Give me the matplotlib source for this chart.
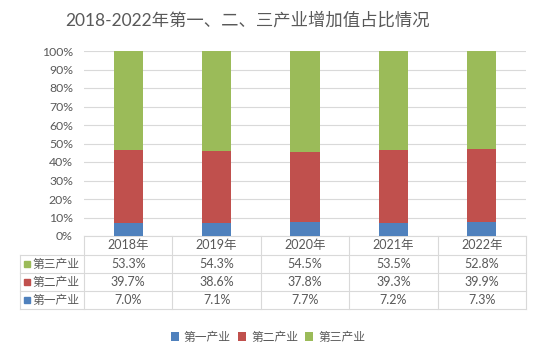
import matplotlib
matplotlib.use("Agg")
import matplotlib.pyplot as plt
import matplotlib.transforms as mtransforms
from matplotlib.patches import Rectangle

plt.rcParams["font.family"] = ["Lato", "Noto Sans CJK SC", "DejaVu Sans"]

# ── Data ──────────────────────────────────────────────
years = ["2018年", "2019年", "2020年", "2021年", "2022年"]
series_names = ["第一产业", "第二产业", "第三产业"]
primary = [7.0, 7.1, 7.7, 7.2, 7.3]
secondary = [39.7, 38.6, 37.8, 39.3, 39.9]
tertiary = [53.3, 54.3, 54.5, 53.5, 52.8]
colors = ["#4F81BD", "#C0504D", "#9BBB59"]

TXT = "#595959"
GRID = "#D9D9D9"

W, H = 536, 354
fig = plt.figure(figsize=(W / 100, H / 100), dpi=100)
fig.patch.set_facecolor("white")

# plot area in pixels
x0, x1, y_top, y_bot = 84, 526, 51, 236
ax = fig.add_axes([x0 / W, (H - y_bot) / H, (x1 - x0) / W, (y_bot - y_top) / H])

x = list(range(len(years)))
bw = 0.33
vals = [primary, secondary, tertiary]
bottom = [0.0] * len(years)
for name, v, c in zip(series_names, vals, colors):
    ax.bar(x, v, bw, bottom=bottom, color=c, label=name, zorder=3)
    bottom = [b + vv for b, vv in zip(bottom, v)]

ax.set_xlim(-0.5, len(years) - 0.5)
ax.set_ylim(0, 100)
ax.set_yticks(range(0, 101, 10))
ax.set_yticklabels([f"{t}%" for t in range(0, 101, 10)], fontsize=8.8, color=TXT)
ax.set_xticks([])
ax.tick_params(axis="y", length=0, pad=8)
ax.grid(True, axis="y", color=GRID, linewidth=0.8, zorder=0)
for s in ["top", "right", "left"]:
    ax.spines[s].set_visible(False)
ax.spines["bottom"].set_color(GRID)

fig.text(248 / W, 1 - 20 / H, "2018-2022年第一、二、三产业增加值占比情况",
         ha="center", va="center", fontsize=12.5, color=TXT)

# ── Data table under the chart ───────────────────────
# x in data units, y in figure fraction
trans = mtransforms.blended_transform_factory(ax.transData, fig.transFigure)

def fy(y):
    return 1 - y / H

unit = (x1 - x0) / len(years)
left_edge = -0.5 - (x0 - 20) / unit
right_edge = len(years) - 0.5
rows_y = [236, 255, 273, 291, 309]
lk = dict(color=GRID, linewidth=0.8, transform=trans, clip_on=False)

for y in rows_y[1:]:
    ax.plot([left_edge, right_edge], [fy(y), fy(y)], **lk)
ax.plot([left_edge, left_edge], [fy(rows_y[1]), fy(rows_y[-1])], **lk)
for i in range(len(years) + 1):
    xv = -0.5 + i
    ax.plot([xv, xv], [fy(rows_y[0]), fy(rows_y[-1])], **lk)

for i, yr in enumerate(years):
    ax.text(i, fy((rows_y[0] + rows_y[1]) / 2), yr, transform=trans,
            ha="center", va="center", fontsize=9, color=TXT)

table_rows = [("第三产业", tertiary, colors[2]),
              ("第二产业", secondary, colors[1]),
              ("第一产业", primary, colors[0])]
for r, (name, v, c) in enumerate(table_rows):
    yc = fy((rows_y[r + 1] + rows_y[r + 2]) / 2)
    for i, val in enumerate(v):
        ax.text(i, yc, f"{val:.1f}%", transform=trans,
                ha="center", va="center", fontsize=9, color=TXT)
    fig.patches.append(Rectangle((24 / W, yc - 3 / H), 6 / W, 6 / H,
                                 color=c, transform=fig.transFigure))
    fig.text(32 / W, yc, name, ha="left", va="center", fontsize=8.5, color=TXT)

# ── Legend ─────────────────────────────────────────
handles, labels = ax.get_legend_handles_labels()
fig.legend(handles, labels, loc="center", bbox_to_anchor=(268 / W, 1 - 337 / H),
           ncol=3, frameon=False, fontsize=8.5, handlelength=0.7, handleheight=0.7,
           handletextpad=0.4, columnspacing=0.6, labelcolor=TXT)

fig.savefig("out.png", dpi=100, facecolor="white")
